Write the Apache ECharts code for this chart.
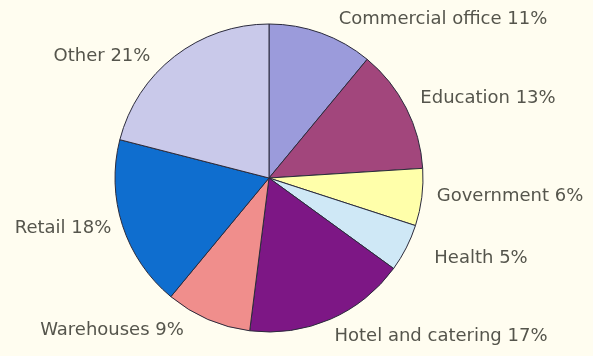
<!DOCTYPE html>
<html>
<head>
<meta charset="utf-8">
<script src="https://cdn.jsdelivr.net/npm/echarts@6/dist/echarts.min.js"></script>
<style>
  html, body { margin: 0; padding: 0; background: #fffdf0; }
  #chart { width: 593px; height: 356px; }
</style>
</head>
<body>
<div id="chart"></div>
<script>
// Share of floor space by building sector, clockwise from 12 o'clock
const sectors = ['Commercial office', 'Education', 'Government', 'Health',
                 'Hotel and catering', 'Warehouses', 'Retail', 'Other'];
const shares = [11, 13, 6, 5, 17, 9, 18, 21];
const sliceColors = ['#9b9bdb', '#a2467c', '#ffffaa', '#cfe8f6',
                     '#7d1785', '#f08e8c', '#0f6ecf', '#c9c9ea'];
// Where each label's centre sits on the canvas
const labelSpots = [[443, 19], [488, 98], [510, 196], [481, 258],
                    [441, 336], [112, 330], [63, 228], [102, 56]];

const chart = echarts.init(document.getElementById('chart'), null, { renderer: 'canvas' });

chart.setOption({
  backgroundColor: '#fffdf0',
  animation: false,
  series: [{
    type: 'pie',
    center: [269, 178],
    radius: [0, 154],
    startAngle: 90,
    clockwise: true,
    avoidLabelOverlap: false,
    data: sectors.map((name, i) => ({
      name,
      value: shares[i],
      itemStyle: { color: sliceColors[i] }
    })),
    itemStyle: { borderColor: '#2b2b3c', borderWidth: 1 },
    label: {
      show: true,
      position: 'outside',
      formatter: p => p.name + ' ' + p.value + '%',
      fontFamily: '"DejaVu Sans", sans-serif',
      fontSize: 18,
      color: '#55554c'
    },
    labelLine: { show: false },
    labelLayout: p => ({
      x: labelSpots[p.dataIndex][0],
      y: labelSpots[p.dataIndex][1],
      align: 'center',
      verticalAlign: 'middle'
    }),
    emphasis: { disabled: true }
  }]
});
</script>
</body>
</html>
